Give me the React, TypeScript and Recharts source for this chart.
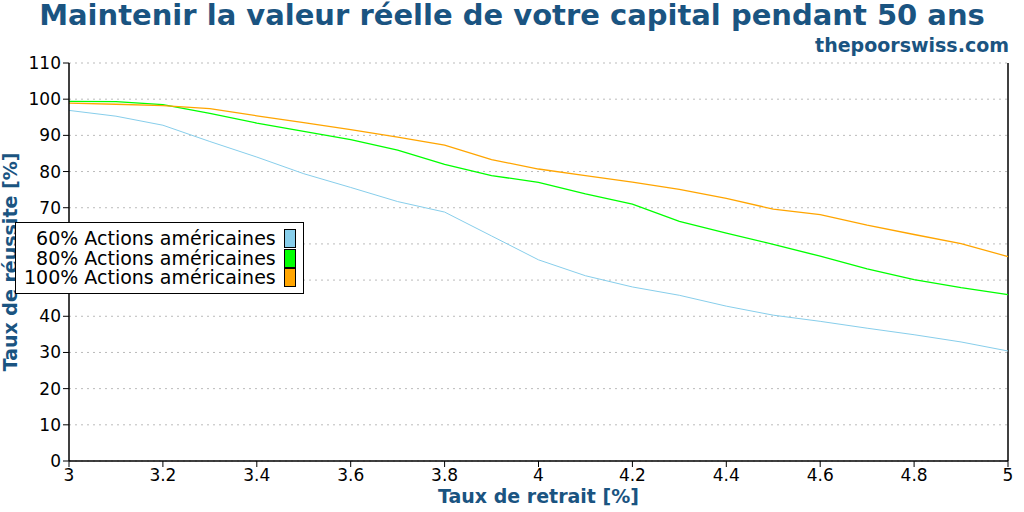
import React from "react";
import {
  LineChart,
  Line,
  XAxis,
  YAxis,
  CartesianGrid,
  ReferenceLine,
} from "recharts";

const TITLE = "Maintenir la valeur réelle de votre capital pendant 50 ans";
const SITE = "thepoorswiss.com";
const BLUE_TEXT = "#1a5481";

// withdrawal rate (%)
const rates = [3.0, 3.1, 3.2, 3.3, 3.4, 3.5, 3.6, 3.7, 3.8, 3.9, 4.0, 4.1, 4.2, 4.3, 4.4, 4.5, 4.6, 4.7, 4.8, 4.9, 5.0];

// success rate (%) per allocation
const us60 = [96.9, 95.3, 92.8, 88.3, 84.0, 79.4, 75.6, 71.7, 68.8, 62.2, 55.6, 51.2, 48.1, 45.8, 42.8, 40.3, 38.6, 36.7, 34.9, 32.9, 30.4];
const us80 = [99.4, 99.3, 98.5, 96.1, 93.4, 91.1, 88.8, 85.9, 82.0, 78.9, 77.0, 73.8, 71.0, 66.2, 63.0, 59.9, 56.6, 53.1, 50.1, 47.9, 46.0];
const us100 = [98.9, 98.6, 98.2, 97.4, 95.4, 93.5, 91.6, 89.5, 87.3, 83.3, 80.7, 78.9, 77.1, 75.1, 72.6, 69.6, 68.1, 65.2, 62.6, 60.1, 56.5];

const xTicks = [3, 3.2, 3.4, 3.6, 3.8, 4, 4.2, 4.4, 4.6, 4.8, 5];
const yTicks = [0, 10, 20, 30, 40, 50, 60, 70, 80, 90, 100, 110];

const SERIES = [
  { key: "us60", label: "60% Actions américaines", color: "#87ceeb", width: 1 },
  { key: "us80", label: "80% Actions américaines", color: "#00ff00", width: 1.3 },
  { key: "us100", label: "100% Actions américaines", color: "#ffa500", width: 1.3 },
];

const data = rates.map((r, i) => ({ rate: r, us60: us60[i], us80: us80[i], us100: us100[i] }));

const FONT = "'DejaVu Sans', sans-serif";

function LegendBox() {
  return (
    <div
      style={{
        position: "absolute",
        left: 15,
        top: 222,
        background: "#fff",
        border: "1px solid #000",
        padding: "6px 7px 5px 8px",
        fontFamily: FONT,
        fontSize: 19,
        color: "#000",
        lineHeight: "19.5px",
      }}
    >
      {SERIES.map((s) => (
        <div key={s.key} style={{ display: "flex", justifyContent: "flex-end", alignItems: "center" }}>
          <span style={{ whiteSpace: "nowrap" }}>{s.label}</span>
          <span
            style={{
              display: "inline-block",
              width: 10,
              height: 17,
              background: s.color,
              border: "1px solid #000",
              marginLeft: 8,
            }}
          />
        </div>
      ))}
    </div>
  );
}

export default function App() {
  const tick = { fontFamily: FONT, fontSize: 17, fill: "#000" };
  return (
    <div style={{ position: "relative", width: 1024, height: 512, background: "#fff" }}>
      <style>{"body{margin:0}"}</style>
      <div style={{ position: "absolute", top: 0, left: 0 }}>
        <LineChart
          width={1024}
          height={512}
          data={data}
          margin={{ top: 63, right: 16, bottom: 0, left: 0 }}
        >
          <CartesianGrid
            horizontal
            vertical={false}
            stroke="#bbb"
            strokeDasharray="2 4"
          />
          <XAxis
            dataKey="rate"
            type="number"
            domain={[3, 5]}
            ticks={xTicks}
            tick={tick}
            tickSize={6}
            height={51}
            axisLine={{ stroke: "#000", strokeWidth: 1.5 }}
            tickLine={{ stroke: "#000" }}
            label={{
              value: "Taux de retrait [%]",
              position: "insideBottom",
              offset: 9,
              style: { fontFamily: FONT, fontWeight: "bold", fontSize: 19, fill: BLUE_TEXT },
            }}
          />
          <YAxis
            type="number"
            domain={[0, 110]}
            ticks={yTicks}
            tick={tick}
            tickSize={6}
            width={69}
            interval={0}
            axisLine={{ stroke: "#000", strokeWidth: 1.5 }}
            tickLine={{ stroke: "#000" }}
            label={{
              value: "Taux de réussite [%]",
              angle: -90,
              position: "insideLeft",
              offset: 10,
              style: { fontFamily: FONT, fontWeight: "bold", fontSize: 19, fill: BLUE_TEXT, textAnchor: "middle" },
            }}
          />
          <ReferenceLine x={5} stroke="#000" strokeWidth={1.5} />
          {SERIES.map((s) => (
            <Line
              key={s.key}
              dataKey={s.key}
              stroke={s.color}
              strokeWidth={s.width}
              dot={false}
              type="linear"
              isAnimationActive={false}
            />
          ))}
        </LineChart>
      </div>
      <div
        style={{
          position: "absolute",
          top: -2,
          left: 0,
          width: 1024,
          textAlign: "center",
          fontFamily: FONT,
          fontWeight: "bold",
          fontSize: 29,
          color: BLUE_TEXT,
          whiteSpace: "nowrap",
        }}
      >
        {TITLE}
      </div>
      <div
        style={{
          position: "absolute",
          top: 34,
          right: 15,
          fontFamily: FONT,
          fontWeight: "bold",
          fontSize: 19,
          color: BLUE_TEXT,
        }}
      >
        {SITE}
      </div>
      <LegendBox />
    </div>
  );
}
